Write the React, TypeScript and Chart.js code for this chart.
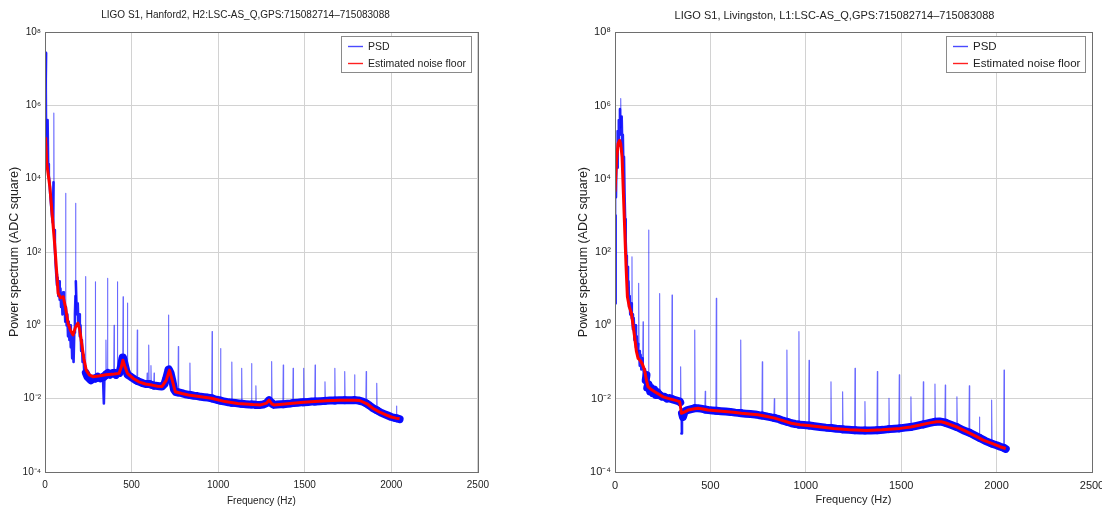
import React, { useEffect, useRef } from "react";
import { Chart, registerables } from "chart.js";
Chart.register(...registerables);

// ---- axis ticks ----
const xTickValues = [0, 500, 1000, 1500, 2000, 2500];
const yTickExponents = [-4, -2, 0, 2, 4, 6, 8];

// ---- titles / labels ----
const leftTitle = "LIGO S1, Hanford2, H2:LSC-AS_Q,GPS:715082714–715083088";
const rightTitle = "LIGO S1, Livingston, L1:LSC-AS_Q,GPS:715082714–715083088";
const xAxisTitle = "Frequency (Hz)";
const yAxisTitle = "Power spectrum (ADC square)";
const psdLabel = "PSD";
const floorLabel = "Estimated noise floor";

// ---- data: [frequency Hz, log10(power)] ----
const h2Floor: [number, number][] = [
  [0, 5.1], [4, 5.05], [10, 4.42], [28, 3.78], [57, 2.15], [76, 0.87], [90, 0.75], [105, 0.78], [118, 0.5],
  [133, 0.06], [148, -0.15], [162, -0.26], [176, -0.05], [190, 0.06], [200, -0.1], [209, -0.4], [224, -0.9],
  [238, -1.22], [256, -1.35], [276, -1.4], [310, -1.38], [352, -1.35], [400, -1.33], [428, -1.31], [440, -1.15],
  [450, -0.95], [460, -1.1], [476, -1.31], [510, -1.45], [542, -1.54], [580, -1.6], [618, -1.63], [650, -1.66],
  [675, -1.67], [700, -1.5], [719, -1.22], [735, -1.5], [752, -1.81], [790, -1.86], [828, -1.9], [900, -1.95],
  [961, -1.99], [1040, -2.08], [1113, -2.13], [1200, -2.16], [1246, -2.17], [1280, -2.12], [1294, -2.04],
  [1310, -2.14], [1322, -2.17], [1400, -2.14], [1494, -2.1], [1560, -2.08], [1627, -2.06], [1700, -2.04],
  [1741, -2.04], [1790, -2.04], [1817, -2.05], [1860, -2.14], [1893, -2.26], [1930, -2.36], [1969, -2.44],
  [2000, -2.5], [2026, -2.53], [2048, -2.55],
];

const h2Psd: [number, number][] = [
  [0, 4.6], [3, 6.3], [6, 7.43], [8, 5.2], [10, 6.5], [12, 4.9], [15, 5.6], [18, 4.4], [22, 4.1], [26, 3.9],
  [30, 3.6], [35, 3.3], [40, 3.0], [45, 2.8], [49, 3.9], [51, 5.79], [53, 2.6], [57, 2.1], [61, 1.7], [65, 1.4],
  [69, 1.1], [73, 1.3], [77, 0.8], [81, 1.2], [85, 0.7], [89, 1.0], [93, 0.5], [97, 0.8], [101, 0.3], [105, 0.9],
  [109, 0.4], [113, 0.6], [117, 0.1], [119, 0.7], [120, 3.6], [121, 0.5], [125, 0.0], [129, 0.3], [133, -0.3],
  [137, 0.1], [141, -0.4], [145, 0.0], [149, -0.6], [153, -0.2], [157, -0.9], [161, -0.4], [165, -1.0],
  [169, -0.2], [173, 0.3], [176, 0.8], [177, 3.33], [178, 1.2], [181, 0.7], [185, 0.3], [189, 0.6], [193, 0.0],
  [197, 0.3], [201, -0.3], [205, 0.0], [209, -0.7], [213, -0.4], [217, -1.0], [222, -0.8], [227, -1.3],
  [232, -1.1], [234, 1.33], [236, -1.3], [245, -1.4], [255, -1.45], [265, -1.5], [280, -1.45], [290, -1.45],
  [291, 1.19], [292, -1.45], [305, -1.4], [320, -1.45], [335, -1.4], [340, -2.13], [343, -1.4], [350, -1.35],
  [352, -0.4], [354, -1.35], [359, -1.33], [361, 1.28], [363, -1.3], [375, -1.35], [390, -1.3], [397, -1.3],
  [399, 0.0], [401, -1.3], [410, -1.35], [416, -1.32], [418, 1.19], [420, -1.3], [430, -1.3], [440, -1.1],
  [447, -0.9], [449, -0.88], [451, 0.78], [453, -0.92], [462, -1.1], [470, -1.25], [474, -1.3], [476, 0.61],
  [478, -1.35], [495, -1.4], [510, -1.45], [525, -1.5], [531, -1.51], [533, -0.13], [535, -1.52], [550, -1.55],
  [565, -1.58], [580, -1.6], [588, -1.6], [590, -1.3], [592, -1.6], [597, -1.6], [599, -0.54], [601, -1.6],
  [610, -1.61], [612, -1.1], [614, -1.62], [628, -1.64], [630, -1.3], [632, -1.65], [640, -1.65], [660, -1.66],
  [675, -1.67], [690, -1.6], [700, -1.45], [711, -1.25], [713, 0.28], [715, -1.2], [725, -1.3], [735, -1.5],
  [745, -1.75], [755, -1.82], [768, -1.83], [770, -0.58], [772, -1.83], [790, -1.85], [810, -1.88], [835, -1.9],
  [837, -1.03], [839, -1.9], [860, -1.92], [880, -1.93], [900, -1.95], [920, -1.96], [940, -1.97], [963, -1.99],
  [965, -0.17], [967, -2.0], [990, -2.03], [1012, -2.05], [1014, -0.63], [1016, -2.06], [1040, -2.08],
  [1060, -2.1], [1077, -2.11], [1079, -1.0], [1081, -2.11], [1100, -2.12], [1120, -2.13], [1134, -2.14],
  [1136, -1.17], [1138, -2.14], [1160, -2.15], [1180, -2.16], [1191, -2.16], [1193, -1.04], [1195, -2.16],
  [1210, -2.16], [1216, -2.17], [1218, -1.65], [1220, -2.17], [1240, -2.17], [1260, -2.16], [1280, -2.12],
  [1294, -2.04], [1300, -2.08], [1307, -2.1], [1309, -0.99], [1311, -2.14], [1322, -2.17], [1340, -2.16],
  [1360, -2.15], [1374, -2.15], [1376, -1.08], [1378, -2.15], [1400, -2.14], [1420, -2.13], [1431, -2.12],
  [1433, -1.17], [1435, -2.12], [1460, -2.11], [1480, -2.1], [1492, -2.1], [1494, -1.17], [1496, -2.1],
  [1520, -2.09], [1540, -2.08], [1558, -2.08], [1560, -1.08], [1562, -2.08], [1590, -2.07], [1615, -2.06],
  [1617, -1.54], [1619, -2.06], [1645, -2.05], [1672, -2.05], [1674, -1.17], [1676, -2.05], [1700, -2.04],
  [1720, -2.04], [1729, -2.04], [1731, -1.26], [1733, -2.04], [1760, -2.04], [1786, -2.04], [1788, -1.35],
  [1790, -2.04], [1810, -2.05], [1835, -2.08], [1853, -2.12], [1855, -1.26], [1857, -2.13], [1875, -2.19],
  [1895, -2.26], [1914, -2.31], [1916, -1.58], [1918, -2.32], [1940, -2.38], [1960, -2.42], [1980, -2.46],
  [2000, -2.5], [2015, -2.52], [2028, -2.53], [2030, -2.2], [2032, -2.54], [2048, -2.56],
];

const l1Floor: [number, number][] = [
  [0, 3.65], [8, 4.5], [16, 4.96], [24, 5.05], [30, 4.95], [37, 4.6], [44, 3.6], [51, 2.6], [58, 1.6], [65, 0.78],
  [75, 0.5], [86, 0.33], [100, -0.2], [112, -0.7], [121, -0.9], [131, -0.95], [143, -1.05], [155, -1.22],
  [165, -1.5], [173, -1.67], [190, -1.75], [208, -1.81], [230, -1.88], [252, -1.95], [278, -1.99], [313, -2.04],
  [339, -2.08], [344, -2.25], [348, -2.4], [365, -2.36], [383, -2.31], [410, -2.28], [435, -2.26], [460, -2.28],
  [487, -2.31], [530, -2.33], [575, -2.35], [620, -2.37], [662, -2.4], [705, -2.42], [749, -2.44], [790, -2.48],
  [837, -2.53], [880, -2.6], [924, -2.67], [970, -2.71], [1012, -2.73], [1080, -2.77], [1144, -2.81],
  [1230, -2.85], [1319, -2.87], [1400, -2.85], [1494, -2.81], [1550, -2.77], [1599, -2.72], [1650, -2.66],
  [1686, -2.63], [1710, -2.63], [1738, -2.67], [1790, -2.77], [1843, -2.9], [1890, -3.02], [1930, -3.13],
  [1975, -3.22], [2018, -3.31], [2048, -3.36],
];

const l1Psd: [number, number][] = [
  [0, 3.0], [3, 0.6], [5, 3.5], [8, 4.8], [11, 4.3], [14, 5.3], [17, 4.9], [20, 5.6], [23, 5.2], [26, 5.9],
  [28, 5.5], [30, 6.19], [32, 5.4], [35, 5.7], [38, 4.9], [41, 5.2], [44, 4.3], [47, 4.6], [50, 3.6], [53, 2.9],
  [56, 2.3], [59, 1.9], [62, 1.4], [65, 1.6], [68, 0.9], [71, 1.2], [74, 0.5], [77, 0.8], [80, 0.3], [84, 0.6],
  [88, 0.2], [89, 1.87], [90, 0.3], [94, -0.1], [98, 0.2], [102, -0.4], [106, 0.0], [110, -0.6], [114, -0.3],
  [118, -0.8], [122, -0.5], [124, 1.15], [126, -0.7], [130, -1.1], [134, -0.8], [138, -1.2], [142, -0.9],
  [145, -1.1], [147, 0.1], [149, -1.2], [153, -1.4], [157, -1.2], [161, -1.5], [165, -1.35], [169, -1.7],
  [174, -1.6], [176, 2.6], [178, -1.65], [184, -1.8], [190, -1.7], [198, -1.85], [206, -1.75], [214, -1.9],
  [222, -1.82], [232, -1.9], [234, 0.87], [236, -1.9], [248, -1.95], [260, -1.95], [272, -2.0], [285, -1.98],
  [297, -2.0], [299, 0.83], [301, -2.02], [315, -2.04], [328, -2.06], [340, -2.08], [342, -2.1], [344, -1.13],
  [346, -2.35], [348, -2.95], [351, -2.4], [356, -2.5], [365, -2.35], [375, -2.32], [390, -2.3], [405, -2.28],
  [416, -2.26], [418, -0.13], [420, -2.26], [435, -2.26], [450, -2.27], [471, -2.29], [473, -1.8], [475, -2.3],
  [490, -2.31], [510, -2.32], [529, -2.33], [531, 0.74], [533, -2.33], [555, -2.34], [580, -2.35], [605, -2.36],
  [630, -2.38], [657, -2.39], [659, -0.4], [661, -2.4], [685, -2.41], [710, -2.42], [735, -2.43], [755, -2.45],
  [770, -2.46], [772, -0.99], [774, -2.46], [800, -2.49], [820, -2.51], [833, -2.52], [835, -2.0], [837, -2.53],
  [860, -2.56], [880, -2.6], [899, -2.63], [901, -0.67], [903, -2.63], [925, -2.67], [945, -2.69], [962, -2.7],
  [964, -0.17], [966, -2.71], [990, -2.72], [1015, -2.73], [1017, -0.95], [1019, -2.73], [1045, -2.75],
  [1075, -2.77], [1105, -2.79], [1130, -2.8], [1132, -1.54], [1134, -2.8], [1160, -2.82], [1191, -2.83],
  [1193, -1.81], [1195, -2.84], [1225, -2.85], [1256, -2.86], [1258, -1.17], [1260, -2.86], [1285, -2.87],
  [1308, -2.87], [1310, -2.08], [1312, -2.87], [1340, -2.87], [1373, -2.86], [1375, -1.26], [1377, -2.86],
  [1405, -2.85], [1434, -2.83], [1436, -1.99], [1438, -2.83], [1465, -2.82], [1488, -2.81], [1490, -1.35],
  [1492, -2.81], [1520, -2.79], [1549, -2.77], [1551, -1.95], [1553, -2.77], [1580, -2.74], [1614, -2.7],
  [1616, -1.54], [1618, -2.7], [1650, -2.66], [1675, -2.63], [1677, -1.6], [1679, -2.63], [1700, -2.62],
  [1729, -2.65], [1731, -1.63], [1733, -2.66], [1760, -2.71], [1790, -2.77], [1792, -1.95], [1794, -2.78],
  [1825, -2.86], [1855, -2.92], [1857, -1.65], [1859, -2.93], [1885, -3.0], [1908, -3.06], [1910, -2.5],
  [1912, -3.07], [1940, -3.15], [1972, -3.22], [1974, -2.04], [1976, -3.23], [2000, -3.27], [2020, -3.31],
  [2037, -3.34], [2039, -1.22], [2041, -3.35], [2048, -3.37],
];

// ---- helpers ----
const FONT = '"Liberation Sans", Arial, Helvetica, sans-serif';
const SUP: Record<string, string> = {
  "0": "⁰", "1": "¹", "2": "²", "3": "³", "4": "⁴", "5": "⁵", "6": "⁶", "7": "⁷", "8": "⁸", "9": "⁹", "-": "⁻",
};
const powLabel = (v: number) => {
  const e = Math.round(Math.log10(v));
  return "10" + String(e).split("").map((c) => SUP[c] || c).join("");
};
const toPoints = (arr: [number, number][]) => arr.map(([f, e]) => ({ x: f, y: Math.pow(10, e) }));

// segment kind from its pixel geometry: 0 = narrow line (spike), 1 = clutter, 2 = band along the floor
const segKind = (ctx: any) => {
  const dy = Math.abs(ctx.p1.y - ctx.p0.y);
  const dx = Math.abs(ctx.p1.x - ctx.p0.x);
  if (dx < 0.5 && dy > 8) return 0;
  if (dy <= 3 * dx + 4) return 2;
  return 1;
};
const SEG_WIDTH = [1.1, 2.6, 8];
const SEG_COLOR = ["rgba(25,25,255,0.65)", "rgba(10,10,255,0.9)", "#0a0aff"];

const framePlugin = {
  id: "frameBox",
  afterDatasetsDraw(chart: any) {
    const { ctx, chartArea: a } = chart;
    ctx.save();
    ctx.strokeStyle = "#6e6e6e";
    ctx.lineWidth = 1;
    ctx.strokeRect(Math.round(a.left) + 0.5, Math.round(a.top) + 0.5, Math.round(a.right - a.left), Math.round(a.bottom - a.top));
    ctx.restore();
  },
};

const legendPlugin = {
  id: "insideLegend",
  afterDatasetsDraw(chart: any, _args: any, opts: any) {
    const { ctx, chartArea: a } = chart;
    const size = opts.fontSize || 10;
    ctx.save();
    ctx.font = `${size}px ${FONT}`;
    const items = chart.data.datasets.map((d: any) => ({ label: d.label, color: d.legendColor }));
    const textW = Math.max(...items.map((i: any) => ctx.measureText(i.label).width));
    const sx = 7;
    const sampleLen = 15;
    const tx = sx + sampleLen + 5;
    const w = Math.round(tx + textW + 5);
    const rowH = 17;
    const h = items.length * rowH + 2;
    const x = Math.round(a.right - 7 - w);
    const y = Math.round(a.top + 4);
    ctx.fillStyle = "#ffffff";
    ctx.fillRect(x, y, w, h);
    ctx.strokeStyle = "#8a8a8a";
    ctx.lineWidth = 1;
    ctx.strokeRect(x + 0.5, y + 0.5, w, h);
    items.forEach((it: any, i: number) => {
      const cy = y + 10 + i * rowH;
      ctx.strokeStyle = it.color;
      ctx.lineWidth = 1.4;
      ctx.beginPath();
      ctx.moveTo(x + sx, cy + 0.5);
      ctx.lineTo(x + sx + sampleLen, cy + 0.5);
      ctx.stroke();
      ctx.fillStyle = "#222";
      ctx.textBaseline = "middle";
      ctx.textAlign = "left";
      ctx.fillText(it.label, x + tx, cy + 1);
    });
    ctx.restore();
  },
};

type PanelCfg = {
  left: number;
  width: number;
  padLeft: number;
  padRight: number;
  yAxisWidth: number;
  fontSize: number;
  legendFont: number;
  title: string;
  psd: [number, number][];
  floor: [number, number][];
};

function buildConfig(p: PanelCfg): any {
  return {
    type: "line",
    data: {
      datasets: [
        {
          label: psdLabel,
          data: toPoints(p.psd),
          borderColor: "#0a0aff",
          legendColor: "#4a4aff",
          borderWidth: 8,
          pointRadius: 0,
          borderJoinStyle: "round",
          borderCapStyle: "round",
          order: 2,
          segment: {
            borderWidth: (ctx: any) => SEG_WIDTH[segKind(ctx)],
            borderColor: (ctx: any) => SEG_COLOR[segKind(ctx)],
          },
        },
        {
          label: floorLabel,
          data: toPoints(p.floor),
          borderColor: "#ff0000",
          legendColor: "#ff2020",
          borderWidth: 3,
          pointRadius: 0,
          borderJoinStyle: "round",
          order: 1,
        },
      ],
    },
    options: {
      animation: false,
      responsive: false,
      events: [],
      layout: { padding: { left: p.padLeft, right: p.padRight, top: 0, bottom: 0 } },
      plugins: {
        legend: { display: false },
        tooltip: { enabled: false },
        insideLegend: { fontSize: p.legendFont },
        title: {
          display: true,
          text: p.title,
          color: "#222",
          font: { family: FONT, size: p.fontSize, weight: "normal", lineHeight: 1.2 },
          padding: { top: 9, bottom: 23 - Math.round(p.fontSize * 1.2) },
        },
      },
      scales: {
        x: {
          type: "linear",
          min: 0,
          max: 2500,
          afterBuildTicks: (s: any) => {
            s.ticks = xTickValues.map((v) => ({ value: v }));
          },
          afterFit: (s: any) => {
            s.height = 36;
          },
          ticks: {
            color: "#222",
            padding: 7,
            maxRotation: 0,
            font: { family: FONT, size: p.fontSize },
            callback: (v: any) => String(v),
          },
          grid: { color: "#d2d2d2", lineWidth: 1, drawTicks: false },
          border: { display: false },
          title: {
            display: true,
            text: xAxisTitle,
            color: "#222",
            font: { family: FONT, size: p.fontSize, lineHeight: 1.2 },
            padding: { top: 0, bottom: 1 },
          },
        },
        y: {
          type: "logarithmic",
          min: 1e-4,
          max: 1e8,
          afterBuildTicks: (s: any) => {
            s.ticks = yTickExponents.map((e) => ({ value: Math.pow(10, e) }));
          },
          afterFit: (s: any) => {
            s.width = p.yAxisWidth;
          },
          ticks: {
            color: "#222",
            padding: 4,
            font: { family: FONT, size: p.fontSize },
            callback: (v: any) => powLabel(Number(v)),
          },
          grid: { color: "#d2d2d2", lineWidth: 1, drawTicks: false },
          border: { display: false },
          title: {
            display: true,
            text: yAxisTitle,
            color: "#222",
            font: { family: FONT, size: 12.5, lineHeight: 1 },
            padding: { top: 0, bottom: 0 },
          },
        },
      },
    },
    plugins: [framePlugin, legendPlugin],
  };
}

const leftPanel: PanelCfg = {
  left: 0,
  width: 496,
  padLeft: 8,
  padRight: 13,
  yAxisWidth: 37,
  fontSize: 10,
  legendFont: 10.5,
  title: leftTitle,
  psd: h2Psd,
  floor: h2Floor,
};

const rightPanel: PanelCfg = {
  left: 567,
  width: 545,
  padLeft: 10,
  padRight: 20,
  yAxisWidth: 38,
  fontSize: 11,
  legendFont: 11.5,
  title: rightTitle,
  psd: l1Psd,
  floor: l1Floor,
};

function Panel({ cfg }: { cfg: PanelCfg }) {
  const ref = useRef<HTMLCanvasElement>(null);
  useEffect(() => {
    const chart = new Chart(ref.current as HTMLCanvasElement, buildConfig(cfg));
    return () => chart.destroy();
  }, [cfg]);
  return (
    <canvas
      ref={ref}
      width={cfg.width}
      height={508}
      style={{ position: "absolute", left: cfg.left, top: 0, width: cfg.width, height: 508 }}
    />
  );
}

export default function App() {
  return (
    <div
      style={{
        position: "fixed",
        left: 0,
        top: 0,
        width: 1102,
        height: 508,
        overflow: "hidden",
        background: "#ffffff",
      }}
    >
      <Panel cfg={leftPanel} />
      <Panel cfg={rightPanel} />
    </div>
  );
}
